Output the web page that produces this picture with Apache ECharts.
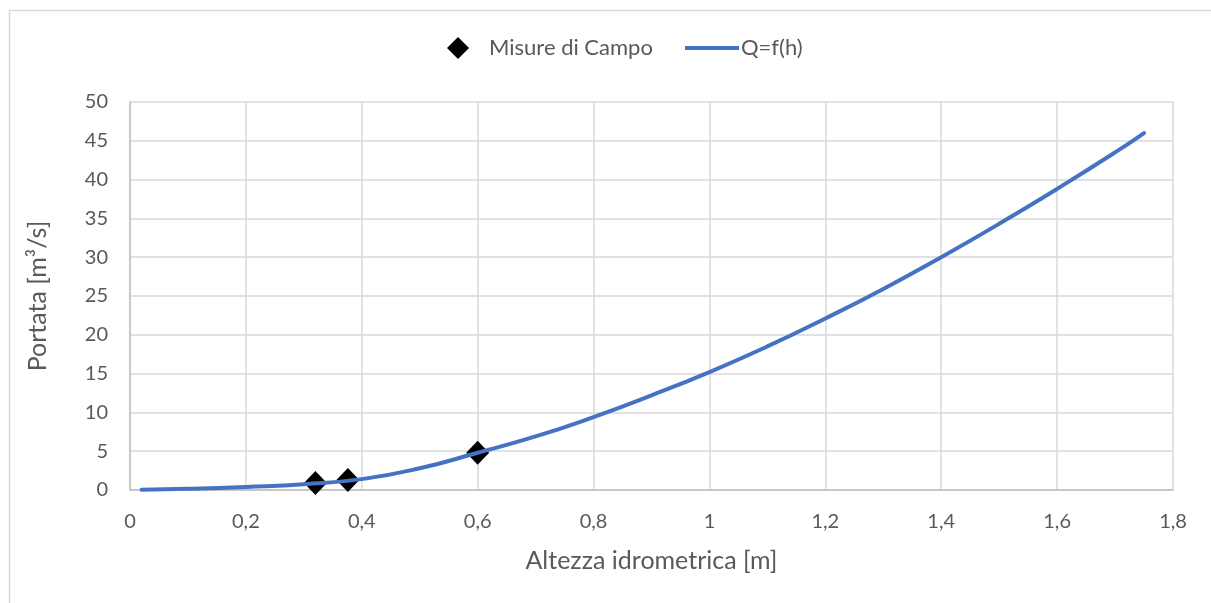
<!DOCTYPE html>
<html>
<head>
<meta charset="utf-8">
<script src="https://cdn.jsdelivr.net/npm/echarts@6/dist/echarts.min.js"></script>
<style>html,body{margin:0;padding:0;background:#fff}#c{width:1211px;height:603px}</style>
</head>
<body>
<div id="c"></div>
<script>
// Field measurements (h [m], Q [m3/s])
const measH = [0.32, 0.376, 0.60];
const measQ = [0.9, 1.3, 4.8];
// Rating curve Q=f(h)
const curveH = [0.02, 0.1, 0.2, 0.3, 0.4, 0.5, 0.6, 0.7, 0.8, 0.9, 1.0, 1.1, 1.2, 1.3, 1.4, 1.5, 1.6, 1.7, 1.75];
const curveQ = [0.03, 0.15, 0.4, 0.75, 1.4, 2.8, 4.8, 6.9, 9.4, 12.2, 15.2, 18.5, 22.1, 25.9, 30.0, 34.3, 38.8, 43.5, 46.0];
const xTicks = [0, 0.2, 0.4, 0.6, 0.8, 1, 1.2, 1.4, 1.6, 1.8];
const yTicks = [0, 5, 10, 15, 20, 25, 30, 35, 40, 45, 50];

const FONT = 'Lato, "Open Sans", sans-serif';
const TXT = '#595959';
const chart = echarts.init(document.getElementById('c'), null, {renderer: 'canvas'});
chart.setOption({
  animation: false,
  backgroundColor: '#fff',
  graphic: [{
    type: 'rect', silent: true, z: -10,
    shape: {x: 9.5, y: 10.5, width: 1300, height: 700},
    style: {fill: 'none', stroke: '#d9d9d9', lineWidth: 1.5}
  }],
  legend: [{
    data: [{name: 'Misure di Campo', icon: 'diamond'}],
    left: 447, top: 37, padding: 0, itemWidth: 22, itemHeight: 22,
    textStyle: {fontFamily: FONT, fontSize: 22, color: TXT, padding: [0, 0, 0, 15]}
  }, {
    data: [{name: 'Q=f(h)', icon: 'rect'}],
    left: 685, top: 37, padding: 0, itemWidth: 54, itemHeight: 4,
    textStyle: {fontFamily: FONT, fontSize: 22, color: TXT, padding: [0, 0, 0, -3], lineHeight: 22}
  }],
  grid: {left: 130, right: 38, top: 102, bottom: 113, containLabel: false},
  xAxis: {
    type: 'value', min: 0, max: 1.8, interval: 0.2,
    name: 'Altezza idrometrica [m]', nameLocation: 'middle', nameGap: 58,
    nameTextStyle: {fontFamily: FONT, fontSize: 25, color: TXT},
    axisLine: {show: true, lineStyle: {color: '#bfbfbf', width: 1.5}},
    axisTick: {show: false},
    axisLabel: {fontFamily: FONT, fontSize: 20, color: TXT, margin: 22,
      formatter: v => { const t = xTicks.find(x => Math.abs(x - v) < 1e-6); return String(t !== undefined ? t : v).replace('.', ','); }},
    splitLine: {show: true, lineStyle: {color: '#d9d9d9', width: 1.5}}
  },
  yAxis: {
    type: 'value', min: 0, max: 50, interval: 5,
    name: 'Portata [m³/s]', nameLocation: 'middle', nameGap: 80, nameRotate: 90,
    nameTextStyle: {fontFamily: FONT, fontSize: 25, color: TXT},
    axisLine: {show: true, lineStyle: {color: '#bfbfbf', width: 1.5}},
    axisTick: {show: false},
    axisLabel: {fontFamily: FONT, fontSize: 20, color: TXT, margin: 22,
      formatter: v => String(yTicks.find(y => Math.abs(y - v) < 1e-6) ?? v)},
    splitLine: {show: true, lineStyle: {color: '#d9d9d9', width: 1.5}}
  },
  series: [{
    name: 'Misure di Campo', type: 'scatter', z: 3,
    symbol: 'diamond', symbolSize: [23, 24],
    itemStyle: {color: '#000', opacity: 1},
    data: measH.map((h, i) => [h, measQ[i]])
  }, {
    name: 'Q=f(h)', type: 'line', z: 4, smooth: true, showSymbol: false,
    lineStyle: {color: '#4472c4', width: 4, cap: 'round'},
    itemStyle: {color: '#4472c4'},
    data: curveH.map((h, i) => [h, curveQ[i]])
  }]
});
</script>
</body>
</html>
